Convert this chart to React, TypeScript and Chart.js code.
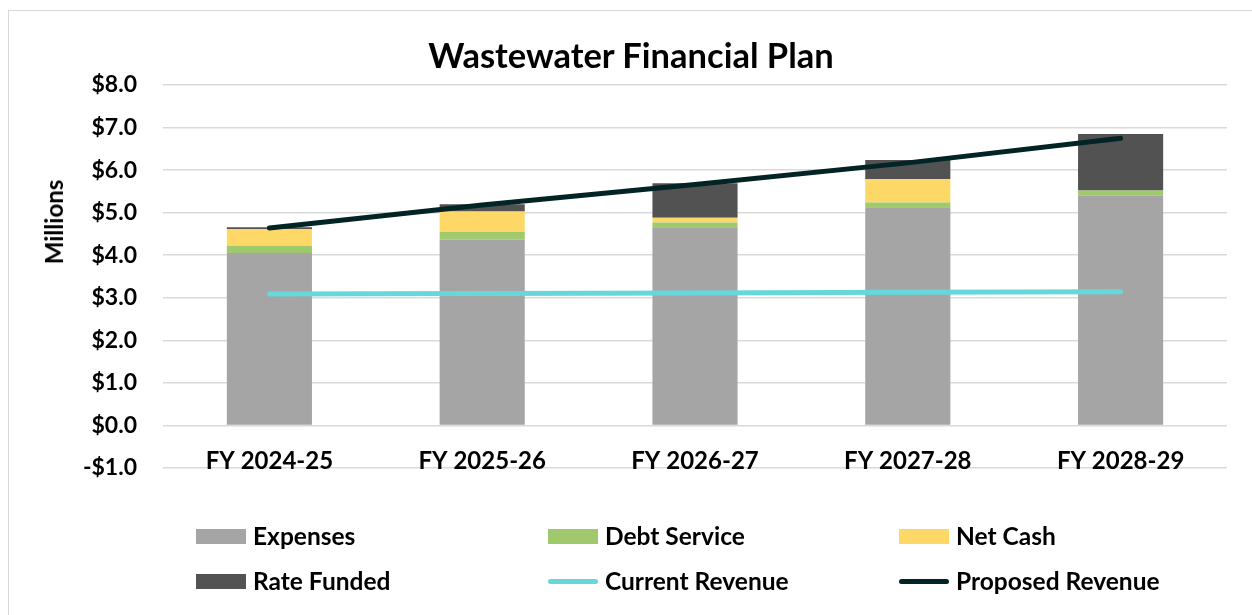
import React, { useEffect, useRef } from "react";
import { Chart, registerables } from "chart.js";

Chart.register(...registerables);

const categories = ["FY 2024-25", "FY 2025-26", "FY 2026-27", "FY 2027-28", "FY 2028-29"];
const expenses = [4.05, 4.37, 4.66, 5.13, 5.40];
const debtService = [0.17, 0.18, 0.11, 0.11, 0.12];
const netCash = [0.39, 0.48, 0.11, 0.55, 0.0];
const rateFunded = [0.05, 0.17, 0.81, 0.45, 1.33];
const currentRevenue = [3.09, 3.10, 3.11, 3.13, 3.14];
const proposedRevenue = [4.64, 5.18, 5.66, 6.17, 6.75];

const FONT = "Lato, 'DejaVu Sans', sans-serif";

const legendItems = [
  { label: "Expenses", color: "#a5a5a5", type: "box" },
  { label: "Debt Service", color: "#a0c96d", type: "box" },
  { label: "Net Cash", color: "#fed866", type: "box" },
  { label: "Rate Funded", color: "#525252", type: "box" },
  { label: "Current Revenue", color: "#66d8dc", type: "line" },
  { label: "Proposed Revenue", color: "#032424", type: "line" },
];

const categoryLabelPlugin = {
  id: "categoryLabels",
  afterDraw(chart: any) {
    const { ctx, chartArea, scales } = chart;
    const xs = scales.x;
    ctx.save();
    ctx.font = `bold 24px ${FONT}`;
    ctx.fillStyle = "#000";
    ctx.textAlign = "center";
    ctx.textBaseline = "alphabetic";
    categories.forEach((c, i) => {
      ctx.fillText(c, xs.getPixelForValue(i), chartArea.bottom + 1);
    });
    ctx.restore();
  },
};

export default function App() {
  const ref = useRef<HTMLCanvasElement | null>(null);

  useEffect(() => {
    if (!ref.current) return;
    const chart = new Chart(ref.current, {
      type: "bar",
      data: {
        labels: categories,
        datasets: [
          { type: "line", label: "Current Revenue", data: currentRevenue, borderColor: "#66d8dc", backgroundColor: "#66d8dc", borderWidth: 5, pointRadius: 0, borderCapStyle: "round", order: 0, stack: "l1" } as any,
          { type: "line", label: "Proposed Revenue", data: proposedRevenue, borderColor: "#032424", backgroundColor: "#032424", borderWidth: 5, pointRadius: 0, borderCapStyle: "round", order: 0, stack: "l2" } as any,
          { label: "Expenses", data: expenses, backgroundColor: "#a5a5a5", stack: "s", order: 1 },
          { label: "Debt Service", data: debtService, backgroundColor: "#a0c96d", stack: "s", order: 1 },
          { label: "Net Cash", data: netCash, backgroundColor: "#fed866", stack: "s", order: 1 },
          { label: "Rate Funded", data: rateFunded, backgroundColor: "#525252", stack: "s", order: 1 },
        ],
      },
      options: {
        responsive: false,
        animation: false,
        layout: { padding: { top: 74, right: 25, bottom: 143, left: 0 } },
        plugins: { legend: { display: false }, title: { display: false }, tooltip: { enabled: false } },
        datasets: { bar: { categoryPercentage: 1, barPercentage: 0.4 } },
        scales: {
          x: {
            stacked: true,
            grid: { display: false, drawTicks: false },
            border: { display: false },
            ticks: { display: false },
            afterFit: (s: any) => { s.height = 0; },
          },
          y: {
            stacked: true,
            min: -1,
            max: 8,
            grid: { color: "#d9d9d9", lineWidth: 1.5, drawTicks: false },
            border: { display: false },
            ticks: {
              stepSize: 1,
              color: "#000",
              padding: 26,
              font: { family: FONT, size: 23, weight: "bold" },
              callback: (v: any) => (Number(v) < 0 ? "-$" + Math.abs(Number(v)).toFixed(1) : "$" + Number(v).toFixed(1)),
            },
            afterFit: (s: any) => { s.width = 154; },
          },
        },
      },
      plugins: [categoryLabelPlugin],
    });
    return () => chart.destroy();
  }, []);

  const cols = [196, 548, 899];
  const rows = [536, 581];

  return (
    <div style={{ position: "absolute", left: 8, top: 10, width: 1260, height: 620, border: "1px solid #d9d9d9", boxSizing: "border-box", fontFamily: FONT }}>
      <canvas ref={ref} width={1243} height={600} style={{ position: "absolute", left: 0, top: 0, width: 1243, height: 600 }} />
      <div style={{ position: "absolute", left: 0, width: 1244, top: 24, textAlign: "center", fontSize: 34.5, fontWeight: "bold", color: "#000", lineHeight: "40px" }}>
        Wastewater Financial Plan
      </div>
      <div style={{ position: "absolute", left: 54 - 9, top: 222 - 11, transform: "translate(-50%, -50%) rotate(-90deg)", fontSize: 24, fontWeight: "bold", color: "#000", whiteSpace: "nowrap", lineHeight: "28px" }}>
        Millions
      </div>
      {legendItems.map((it, i) => {
        const x = cols[i % 3] - 9;
        const y = rows[Math.floor(i / 3)] - 11;
        return (
          <div key={it.label} style={{ position: "absolute", left: x, top: y - 15, height: 30, display: "flex", alignItems: "center", whiteSpace: "nowrap" }}>
            {it.type === "box" ? (
              <div style={{ width: 50, height: 15, background: it.color }} />
            ) : (
              <div style={{ width: 50, height: 5, background: it.color, borderRadius: 3 }} />
            )}
            <span style={{ marginLeft: 7, fontSize: 24.5, fontWeight: "bold", color: "#000", lineHeight: "30px" }}>{it.label}</span>
          </div>
        );
      })}
    </div>
  );
}
